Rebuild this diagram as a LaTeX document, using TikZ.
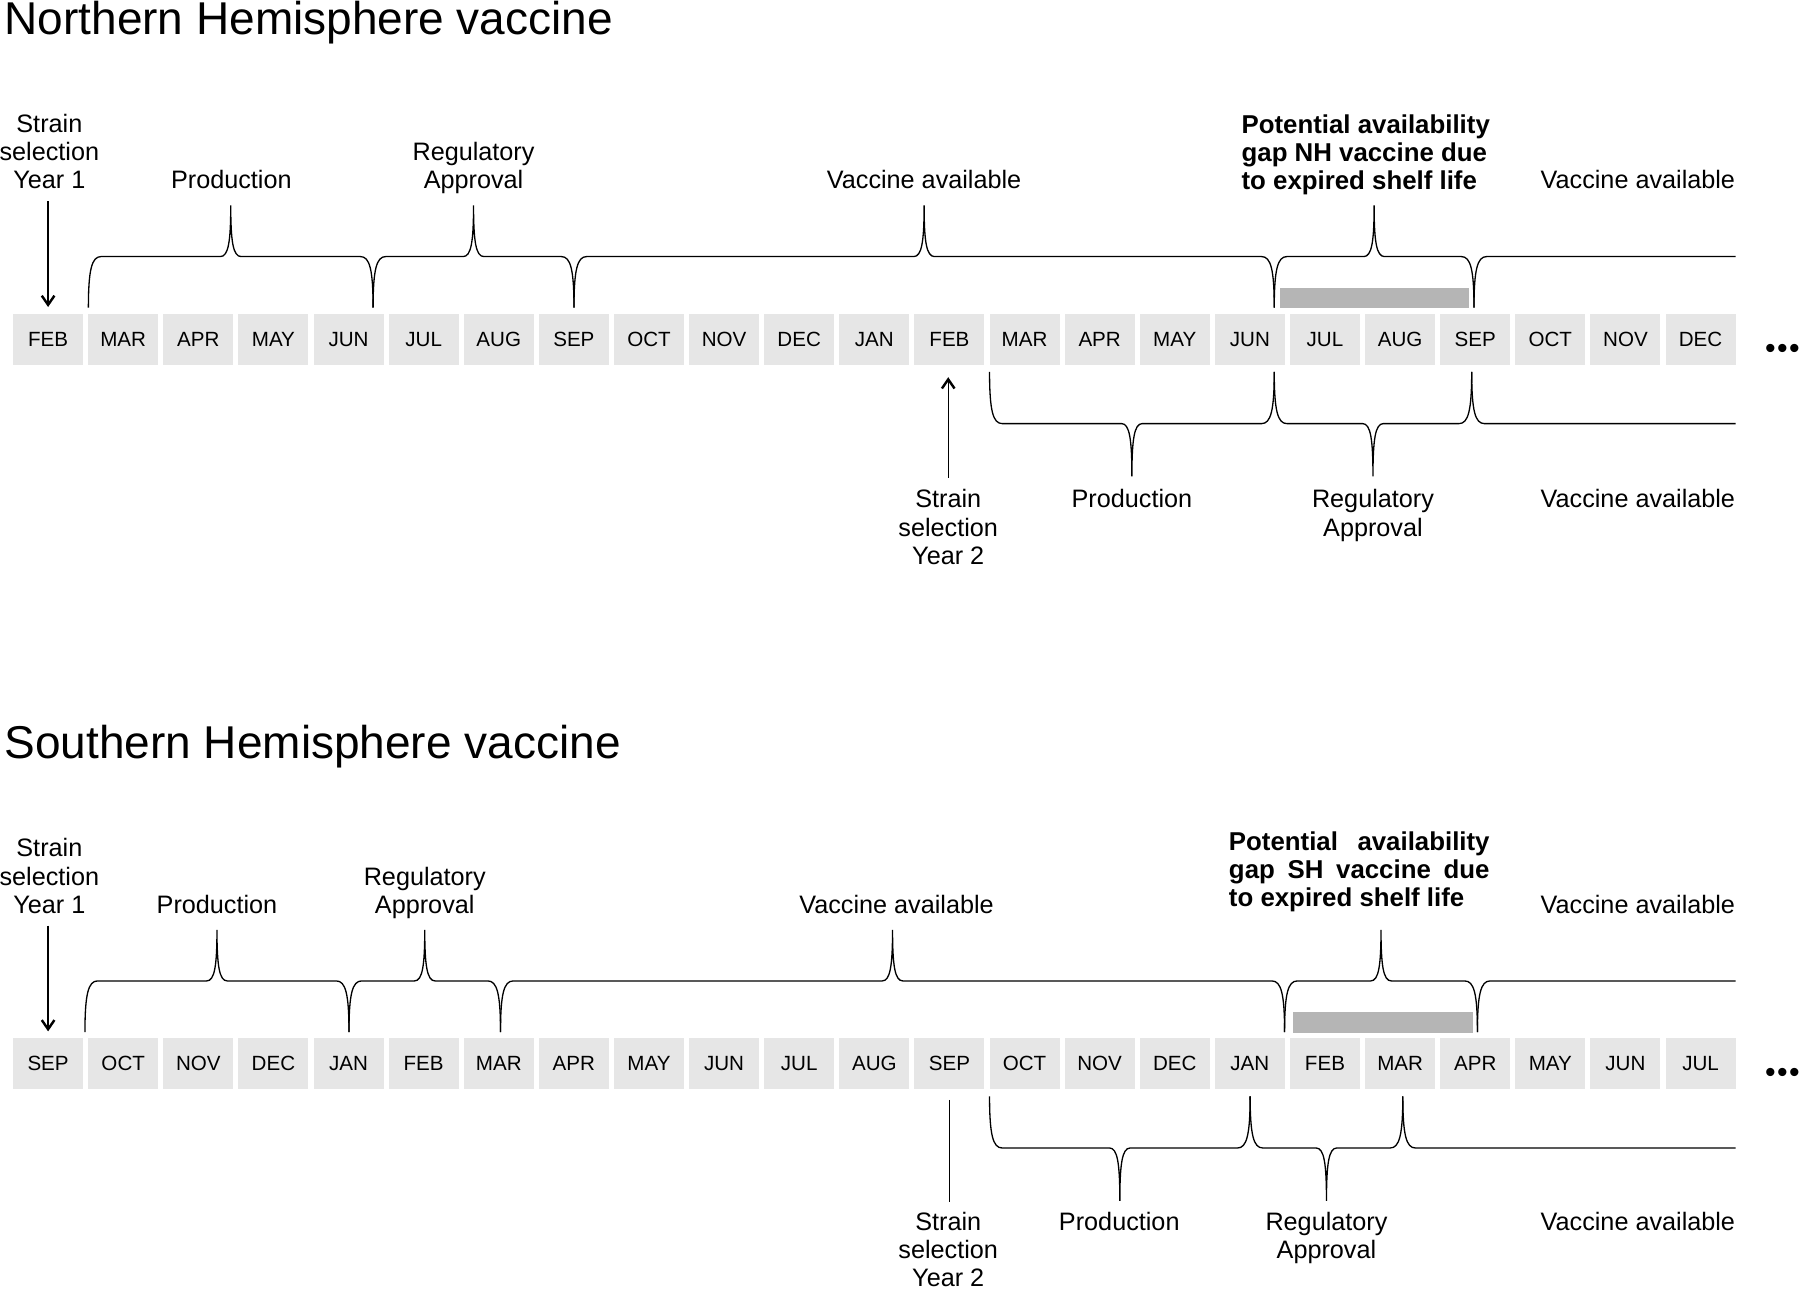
\documentclass[tikz,border=0pt]{standalone}
\usepackage{fontspec}
\setmainfont{Liberation Sans}
\usetikzlibrary{arrows.meta}

\definecolor{boxgrey}{HTML}{E6E6E6}
\definecolor{gapgrey}{HTML}{B5B5B5}

\newcommand{\lblfont}{\fontsize{12.5}{13.94}\selectfont}
% brace with a spike in the middle: x left, x right, y of ends, y of line, y of spike
\newcommand{\spikebrace}[5]{%
  \pgfmathsetmacro{\xm}{(#1+#2)/2}%
  \draw (#1,#3) .. controls (#1,{#4+0.25*(#3-#4)}) and ({#1+3},#4) .. ({#1+11},#4)
    -- ({\xm-9},#4) .. controls ({\xm-2},#4) and (\xm,{#4+0.3*(#5-#4)}) .. (\xm,#5)
    .. controls (\xm,{#4+0.3*(#5-#4)}) and ({\xm+2},#4) .. ({\xm+9},#4)
    -- ({#2-11},#4) .. controls ({#2-3},#4) and (#2,{#4+0.25*(#3-#4)}) .. (#2,#3);}
% brace left open on the right
\newcommand{\openbrace}[4]{%
  \draw (#1,#3) .. controls (#1,{#4+0.25*(#3-#4)}) and ({#1+3},#4) .. ({#1+11},#4) -- (#2,#4);}

\begin{document}
\begin{tikzpicture}[x=0.2mm,y=-0.2mm,line width=0.65pt,
    month/.style={fill=boxgrey,minimum width=12.2mm,minimum height=8.9mm,inner sep=0pt,
        font=\fontsize{10.2}{12}\selectfont},
    lbl/.style={font=\lblfont,align=center,inner sep=0pt,anchor=north},
    gaplbl/.style={font=\fontsize{12.8}{13.94}\selectfont\bfseries,align=left,inner sep=0pt,anchor=north west},
    title/.style={font=\fontsize{22.8}{26}\selectfont,inner sep=0pt,anchor=base west},
    dots/.style={font=\fontsize{15}{18}\selectfont,inner sep=0pt,anchor=base west},
    arr/.style={-{Straight Barb[length=1.6mm,width=2.2mm,line width=1.2pt]}}]
    \useasboundingbox (0,0) rectangle (1568,1124);

    % Northern Hemisphere
    \node[title] (ntitle) at (3.4,30) {Northern Hemisphere vaccine};
    \foreach \m [count=\i from 0] in {FEB,MAR,APR,MAY,JUN,JUL,AUG,SEP,OCT,NOV,DEC,JAN,
        FEB,MAR,APR,MAY,JUN,JUL,AUG,SEP,OCT,NOV,DEC}
        \node[month] (n\i) at ({41.9+65.43*\i},295.75) {\m};
    \node[dots] (ndots) at (1537,312) {•\hspace{0.7pt}•\hspace{0.7pt}•};

    \node[lbl] (nsel1) at (43,99) {Strain\\selection\\Year 1};
    \node[lbl] (nprod) at (201.5,148) {Production};
    \node[lbl] (nreg) at (412.5,123.5) {Regulatory\\Approval};
    \node[lbl] (navail) at (805,148) {Vaccine available};
    \node[gaplbl] (ngap) at (1081,99) {Potential availability\\gap NH vaccine due\\to expired shelf life};
    \node[lbl,anchor=north east] (navail2) at (1512,148) {Vaccine available};

    \fill[gapgrey] (1115,250.5) rectangle (1280,268.5);
    \spikebrace{77}{325}{268}{223.5}{179}
    \spikebrace{325}{500}{268}{223.5}{179}
    \spikebrace{500}{1110}{268}{223.5}{179}
    \spikebrace{1110}{1284}{268}{223.5}{179}
    \openbrace{1284}{1512}{268}{223.5}
    \draw[arr,shorten <=2mm,shorten >=1.1mm] (n0.north |- nsel1.south) -- (n0.north);

    \node[lbl] (nsel2) at (826,426) {Strain\\selection\\Year 2};
    \node[lbl] (nprod2) at (986,426) {Production};
    \node[lbl] (nreg2) at (1196,426) {Regulatory\\Approval};
    \node[lbl,anchor=north east] (navail3) at (1512,426) {Vaccine available};

    \spikebrace{862}{1110}{324}{369}{415}
    \spikebrace{1110}{1282}{324}{369}{415}
    \openbrace{1282}{1512}{324}{369}
    \draw[arr,shorten <=2mm,shorten >=2mm] (nsel2.north) -- (nsel2.north |- n12.south);

    % Southern Hemisphere
    \node[title] (stitle) at (3.4,661) {Southern Hemisphere vaccine};
    \foreach \m [count=\i from 0] in {SEP,OCT,NOV,DEC,JAN,FEB,MAR,APR,MAY,JUN,JUL,AUG,
        SEP,OCT,NOV,DEC,JAN,FEB,MAR,APR,MAY,JUN,JUL}
        \node[month] (s\i) at ({41.9+65.43*\i},926.75) {\m};
    \node[dots] (sdots) at (1537,943) {•\hspace{0.7pt}•\hspace{0.7pt}•};

    \node[lbl] (ssel1) at (43,730) {Strain\\selection\\Year 1};
    \node[lbl] (sprod) at (189,779) {Production};
    \node[lbl] (sreg) at (370,754.5) {Regulatory\\Approval};
    \node[lbl] (savail) at (781,779) {Vaccine available};
    \node[gaplbl] (sgap) at (1070,724) {\makebox[45.4mm][s]{Potential availability}\\
        \makebox[45.4mm][s]{gap SH vaccine due}\\to expired shelf life};
    \node[lbl,anchor=north east] (savail2) at (1512,779) {Vaccine available};

    \fill[gapgrey] (1126,881.5) rectangle (1283,899.5);
    \spikebrace{74}{304}{899}{854.5}{810}
    \spikebrace{304}{436}{899}{854.5}{810}
    \spikebrace{436}{1119}{899}{854.5}{810}
    \spikebrace{1119}{1287}{899}{854.5}{810}
    \openbrace{1287}{1512}{899}{854.5}
    \draw[arr,shorten <=2mm,shorten >=1.1mm] (s0.north |- ssel1.south) -- (s0.north);

    \node[lbl] (ssel2) at (826,1055.5) {Strain\\selection\\Year 2};
    \node[lbl] (sprod2) at (975,1055.5) {Production};
    \node[lbl] (sreg2) at (1155.5,1055.5) {Regulatory\\Approval};
    \node[lbl,anchor=north east] (savail3) at (1512,1055.5) {Vaccine available};

    \spikebrace{862}{1089}{955}{1000}{1046}
    \spikebrace{1089}{1222}{955}{1000}{1046}
    \openbrace{1222}{1512}{955}{1000}
    \draw[shorten <=1.7mm,shorten >=1.7mm] (s12.south) -- (s12.south |- ssel2.north);
\end{tikzpicture}
\end{document}
